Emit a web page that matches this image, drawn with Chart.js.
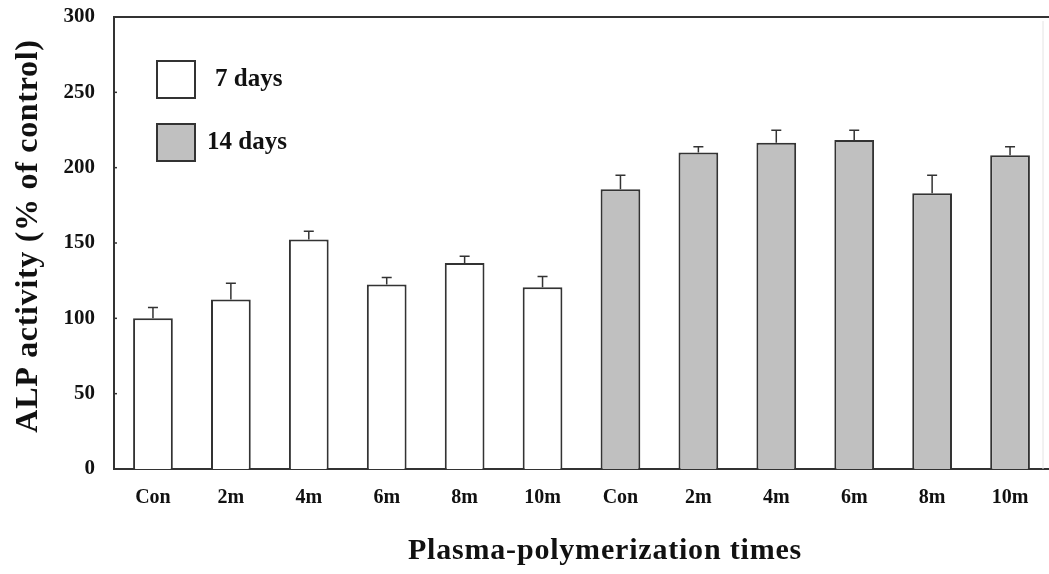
<!DOCTYPE html>
<html>
<head>
<meta charset="utf-8">
<title>ALP activity</title>
<script src="https://cdn.jsdelivr.net/npm/chart.js@4/dist/chart.umd.min.js"></script>
<style>
  html, body { margin: 0; padding: 0; background: #fff; }
  #wrap { width: 1049px; height: 574px; position: relative; }
</style>
</head>
<body>
<div id="wrap"><canvas id="grafico"></canvas></div>
<script>
// categories along the x axis (two time groups of six)
var categorie = ['Con', '2m', '4m', '6m', '8m', '10m', 'Con', '2m', '4m', '6m', '8m', '10m'];

// mean ALP activity, % of control
var valori7 = [100, 112.5, 152.3, 122.4, 136.8, 120.7, null, null, null, null, null, null];
var valori14 = [null, null, null, null, null, null, 185.7, 210.1, 216.5, 218.3, 183.1, 208.3];

// error bars (upper only)
var errori7 = [7.2, 10.8, 5.5, 4.7, 4.4, 7.1, null, null, null, null, null, null];
var errori14 = [null, null, null, null, null, null, 9.3, 3.7, 8.4, 6.6, 11.9, 5.5];

var tickY = [0, 50, 100, 150, 200, 250, 300];

var titoloX = 'Plasma-polymerization times';
var titoloY = 'ALP activity (% of control)';

var serif = '"Liberation Serif", "Times New Roman", serif';
var scuro = '#333333';

// error bars, inner y ticks, frame, legend, axis titles
var pluginExtra = {
    id: 'extra',
    afterDatasetsDraw: function (chart) {
        var ctx = chart.ctx;
        var x = chart.scales.x;
        var y = chart.scales.y;
        var area = chart.chartArea;

        ctx.save();
        ctx.strokeStyle = scuro;
        ctx.lineWidth = 1.5;
        chart.data.datasets.forEach(function (ds) {
            for (var i = 0; i < ds.data.length; i++) {
                if (ds.data[i] === null) continue;
                var cx = x.getPixelForValue(i);
                var top = y.getPixelForValue(ds.data[i] + ds.errori[i]);
                var base = y.getPixelForValue(ds.data[i]);
                ctx.beginPath();
                ctx.moveTo(cx, base);
                ctx.lineTo(cx, top);
                ctx.moveTo(cx - 5, top);
                ctx.lineTo(cx + 5, top);
                ctx.stroke();
            }
        });

        // short ticks pointing into the plot
        tickY.forEach(function (v) {
            var py = y.getPixelForValue(v);
            ctx.beginPath();
            ctx.moveTo(area.left, py);
            ctx.lineTo(area.left + 3, py);
            ctx.stroke();
        });

        // top line of the frame
        ctx.lineWidth = 2;
        ctx.beginPath();
        ctx.moveTo(area.left, area.top);
        ctx.lineTo(area.right, area.top);
        ctx.stroke();

        // faint right edge
        ctx.strokeStyle = '#e4e4e4';
        ctx.lineWidth = 1;
        ctx.beginPath();
        ctx.moveTo(area.right - 6, area.top + 4);
        ctx.lineTo(area.right - 6, area.bottom);
        ctx.stroke();

        // legend boxes
        ctx.font = 'bold 25px ' + serif;
        ctx.textBaseline = 'middle';
        ctx.textAlign = 'left';
        var voci = [
            { ds: chart.data.datasets[0], y: 61, tx: 215 },
            { ds: chart.data.datasets[1], y: 124, tx: 207 }
        ];
        voci.forEach(function (v) {
            ctx.fillStyle = v.ds.backgroundColor;
            ctx.fillRect(157, v.y, 38, 37);
            ctx.strokeStyle = scuro;
            ctx.lineWidth = 2;
            ctx.strokeRect(157, v.y, 38, 37);
            ctx.fillStyle = '#111';
            ctx.fillText(v.ds.label, v.tx, v.y + 19);
        });

        // axis titles
        ctx.fillStyle = '#111';
        ctx.textAlign = 'center';
        ctx.textBaseline = 'alphabetic';
        ctx.font = 'bold 30px ' + serif;
        ctx.letterSpacing = '0.8px';
        ctx.fillText(titoloX, 605, 559);

        ctx.font = 'bold 32px ' + serif;
        ctx.letterSpacing = '0.7px';
        ctx.translate(37, 236);
        ctx.rotate(-Math.PI / 2);
        ctx.fillText(titoloY, 0, 0);
        ctx.restore();
    }
};

var ctx = document.getElementById('grafico');
var chart = new Chart(ctx, {
    type: 'bar',
    data: {
        labels: categorie,
        datasets: [{
            label: '7 days',
            data: valori7,
            errori: errori7,
            backgroundColor: '#ffffff',
            borderColor: scuro,
            borderWidth: 2
        }, {
            label: '14 days',
            data: valori14,
            errori: errori14,
            backgroundColor: '#c0c0c0',
            borderColor: scuro,
            borderWidth: 2
        }]
    },
    options: {
        responsive: true,
        maintainAspectRatio: false,
        animation: false,
        grouped: false,
        categoryPercentage: 1,
        barPercentage: 0.51,
        layout: { padding: 0 },
        plugins: {
            legend: { display: false },
            tooltip: { enabled: false }
        },
        scales: {
            x: {
                grid: { display: false, drawTicks: false },
                border: { display: true, color: scuro, width: 2 },
                ticks: {
                    color: '#111',
                    padding: 17,
                    maxRotation: 0,
                    autoSkip: false,
                    font: { family: serif, size: 20, weight: 'bold' }
                },
                afterFit: function (scale) { scale.height = 105; }
            },
            y: {
                min: 0,
                max: 300,
                afterBuildTicks: function (scale) {
                    scale.ticks = tickY.map(function (v) { return { value: v }; });
                },
                grid: { display: false, drawTicks: false },
                border: { display: true, color: scuro, width: 2 },
                ticks: {
                    color: '#111',
                    padding: 19,
                    font: { family: serif, size: 21, weight: 'bold' }
                },
                afterFit: function (scale) {
                    scale.width = 114;
                    scale.paddingTop = 17;
                }
            }
        }
    },
    plugins: [pluginExtra]
});
</script>
</body>
</html>
